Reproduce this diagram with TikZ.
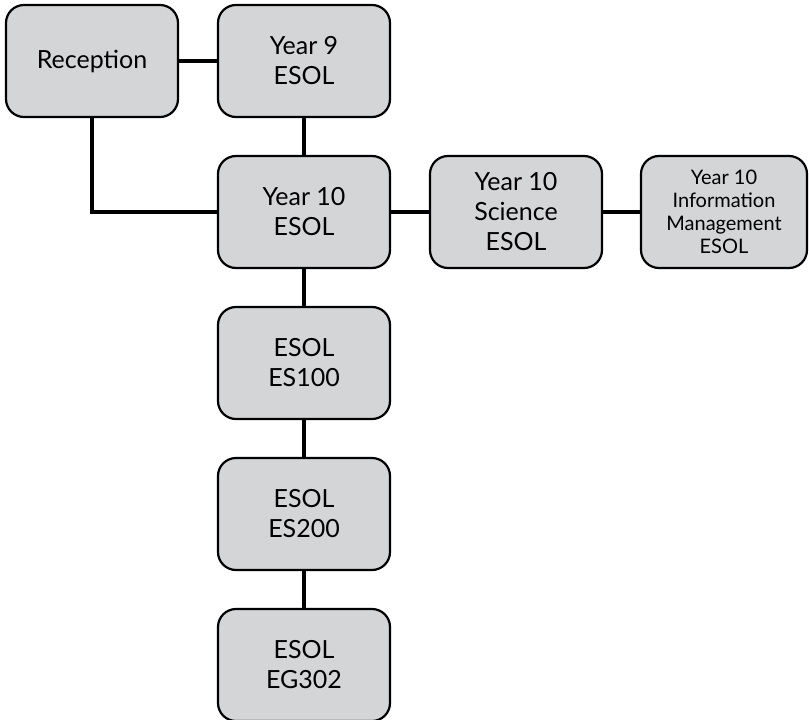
\documentclass[tikz,border=0pt]{standalone}
\usepackage{fontspec}
\setmainfont{Lato}
\tikzset{
  course/.style={draw, line width=2.2pt, rounded corners=18pt, fill=boxgray,
    minimum width=172pt, minimum height=112pt, align=center,
    font=\fontsize{25}{30}\selectfont},
  smallcourse/.style={course, minimum width=166pt, font=\fontsize{20}{23}\selectfont},
  link/.style={line width=4pt}
}
\definecolor{boxgray}{HTML}{D4D5D7}
\begin{document}
\begin{tikzpicture}[x=1pt,y=-1pt]
      \useasboundingbox (0,0) rectangle (809,720);
      \node[course] (rec) at (92,61) {Reception};
      \node[course] (y9) at (304,61) {Year 9\\ESOL};
      \node[course] (y10) at (304,212) {Year 10\\ESOL};
      \node[course] (sci) at (516,212) {Year 10\\Science\\ESOL};
      \node[smallcourse] (info) at (724,212) {Year 10\\Information\\Management\\ESOL};
      \node[course] (es100) at (304,363) {ESOL\\ES100};
      \node[course] (es200) at (304,514) {ESOL\\ES200};
      \node[course] (eg302) at (304,665) {ESOL\\EG302};
      \draw[link] (rec.east) -- (y9.west);
      \draw[link] (y9.south) -- (y10.north);
      \draw[link] (rec.south) |- (y10.west);
      \draw[link] (y10.east) -- (sci.west);
      \draw[link] (sci.east) -- (info.west);
      \draw[link] (y10.south) -- (es100.north);
      \draw[link] (es100.south) -- (es200.north);
      \draw[link] (es200.south) -- (eg302.north);
    \end{tikzpicture}
\end{document}
